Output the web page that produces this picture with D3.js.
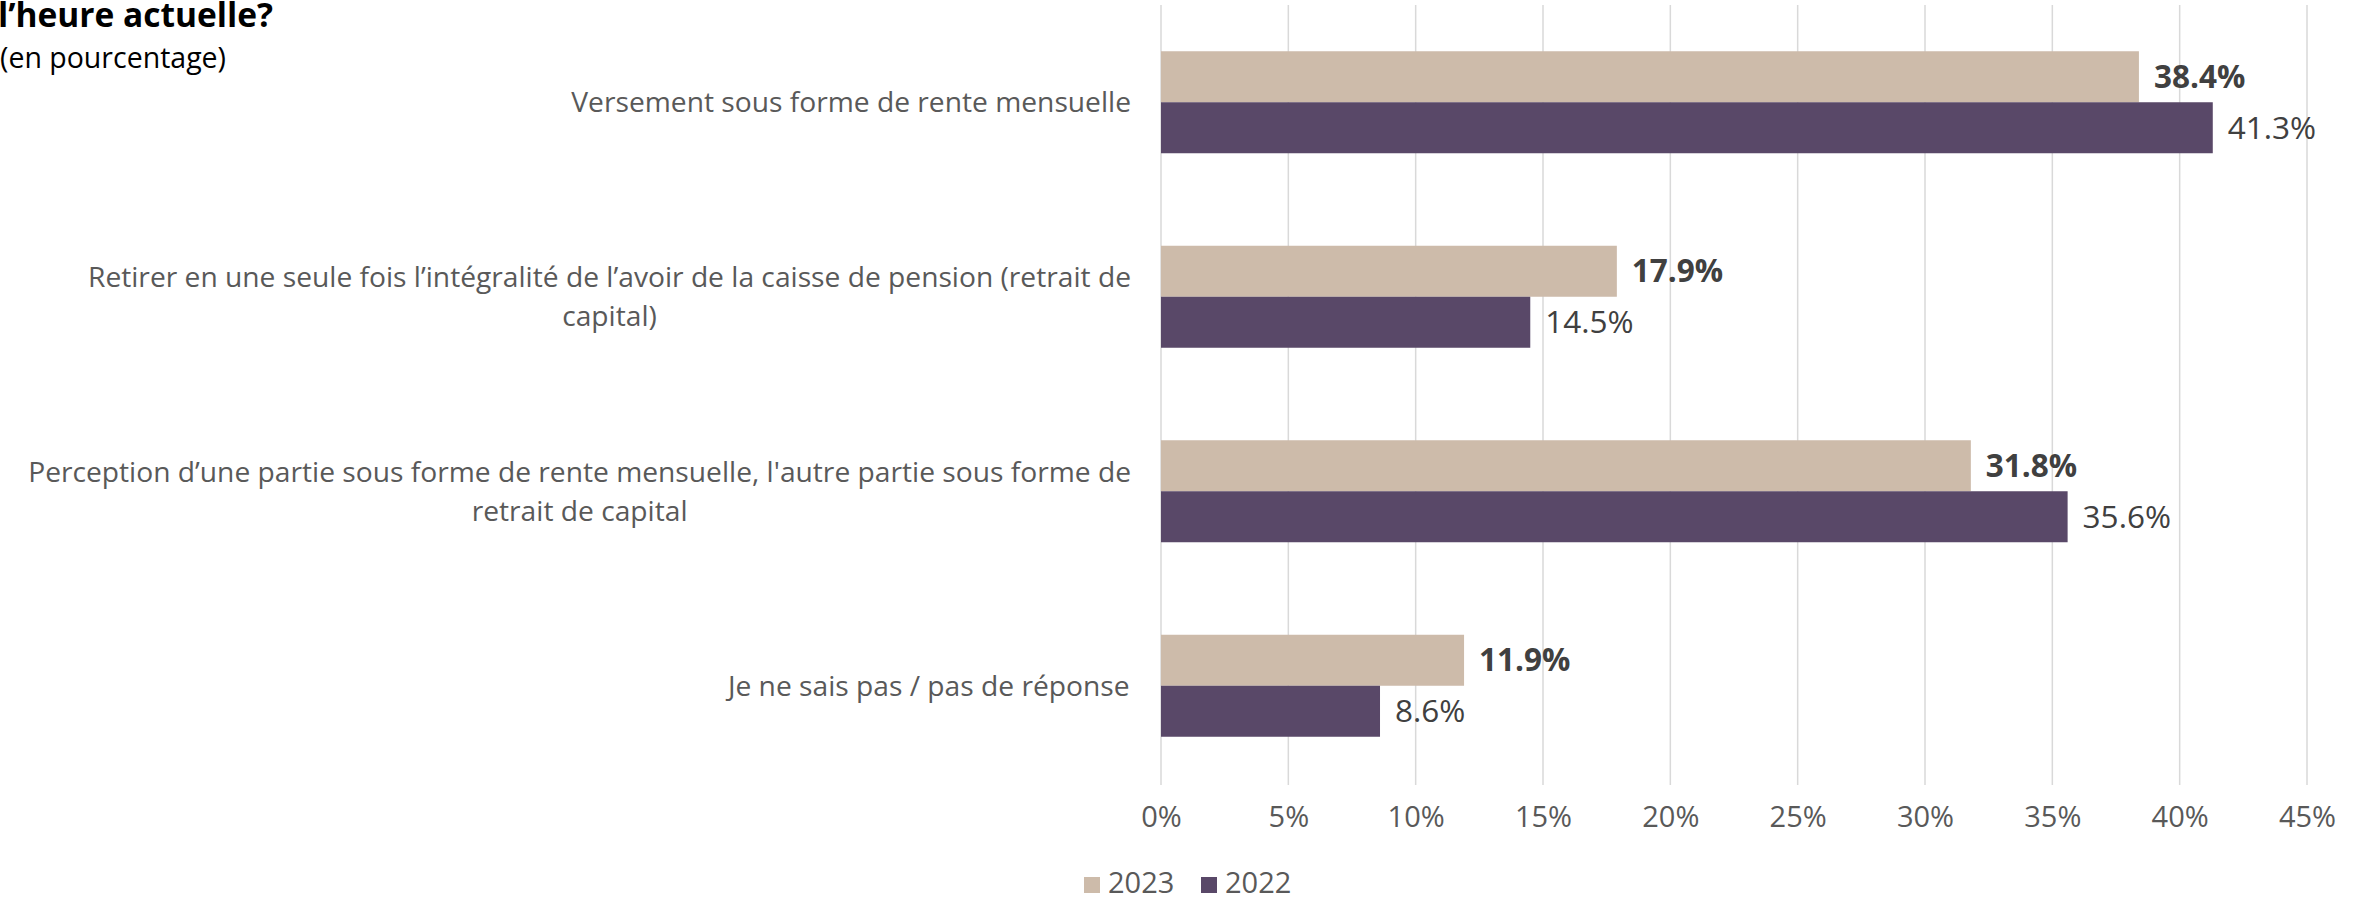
<!DOCTYPE html>
<html lang="fr">
<head>
    <meta charset="UTF-8">
    <title>Rente ou capital</title>
    <script src="https://d3js.org/d3.v7.min.js"></script>
    <style>
        body {
            margin: 0;
            overflow: hidden;
            background: #fff;
        }
        text {
            font-family: "Open Sans", sans-serif;
        }
        .grid line {
            stroke: #d9d9d9;
            stroke-width: 1.5px;
        }
    </style>
</head>
<body>
<script>
    // categories (explicit line breaks as in the original)
    var categories = [
        ["Versement sous forme de rente mensuelle"],
        ["Retirer en une seule fois l’intégralité de l’avoir de la caisse de pension (retrait de", "capital)"],
        ["Perception d’une partie sous forme de rente mensuelle, l'autre partie sous forme de", "retrait de capital"],
        ["Je ne sais pas / pas de réponse"]
    ];
    var series = ["2023", "2022"];
    var values2023 = [38.4, 17.9, 31.8, 11.9];
    var values2022 = [41.3, 14.5, 35.6, 8.6];
    var xTicks = [0, 5, 10, 15, 20, 25, 30, 35, 40, 45];

    var colors = { "2023": "#cdbbaa", "2022": "#594868" };
    var width = 2361, height = 900;

    var svg = d3.select("body").append("svg")
        .attr("width", width)
        .attr("height", height);

    var x = d3.scaleLinear().domain([0, 45]).range([1161, 2307]);

    var y0 = d3.scaleBand()
        .domain(d3.range(categories.length))
        .range([5, 783])
        .padding(0);

    var barH = 51;
    var y1 = d3.scaleBand()
        .domain(series)
        .range([y0.bandwidth() / 2 - barH, y0.bandwidth() / 2 + barH]);

    // gridlines
    svg.append("g")
        .attr("class", "grid")
        .selectAll("line")
        .data(xTicks)
        .enter().append("line")
        .attr("x1", d => x(d))
        .attr("x2", d => x(d))
        .attr("y1", 5)
        .attr("y2", 785);

    // x axis labels
    var xAxis = d3.axisBottom(x)
        .tickValues(xTicks)
        .tickFormat(d => d + "%")
        .tickSize(0)
        .tickPadding(0);

    var ax = svg.append("g")
        .attr("transform", "translate(0,806)")
        .call(xAxis);
    ax.select(".domain").remove();
    ax.selectAll("text")
        .attr("fill", "#595959")
        .attr("dy", "0.71em")
        .style("font-size", "29px")
        .style("font-family", "'Open Sans', sans-serif");

    var data = categories.map((c, i) => ({
        idx: i,
        lines: c,
        vals: [{ s: "2023", v: values2023[i] }, { s: "2022", v: values2022[i] }]
    }));

    var groups = svg.append("g")
        .selectAll("g")
        .data(data)
        .enter().append("g")
        .attr("transform", d => "translate(0," + y0(d.idx) + ")");

    groups.selectAll("rect")
        .data(d => d.vals)
        .enter().append("rect")
        .attr("x", x(0))
        .attr("y", d => y1(d.s))
        .attr("width", d => x(d.v) - x(0))
        .attr("height", y1.bandwidth())
        .attr("fill", d => colors[d.s]);

    groups.selectAll("text.val")
        .data(d => d.vals)
        .enter().append("text")
        .attr("class", "val")
        .attr("x", d => x(d.v) + 15)
        .attr("y", d => y1(d.s) + y1.bandwidth() / 2)
        .attr("dy", "0.35em")
        .attr("fill", "#404040")
        .style("font-size", "31.5px")
        .style("font-weight", d => d.s === "2023" ? "bold" : "normal")
        .text(d => d.v.toFixed(1) + "%");

    // category labels: block right-aligned, lines centred inside the block
    var lineH = 39;
    groups.each(function(d) {
        var g = d3.select(this);
        var t = g.append("text")
            .attr("fill", "#595959")
            .style("font-size", "28.2px");
        var n = d.lines.length;
        d.lines.forEach((ln, k) => {
            t.append("tspan")
                .attr("x", 0)
                .attr("y", y0.bandwidth() / 2 + (k - (n - 1) / 2) * lineH)
                .attr("dy", "0.35em")
                .text(ln);
        });
        var w = t.node().getBBox().width;
        var right = 1131;
        t.attr("text-anchor", "middle")
            .selectAll("tspan").attr("x", right - w / 2);
    });

    // title (only its last line is visible) and subtitle
    svg.append("text")
        .attr("x", -2)
        .attr("y", 27)
        .attr("fill", "#000")
        .style("font-size", "33.5px")
        .style("font-weight", "bold")
        .text("l’heure actuelle?");

    svg.append("text")
        .attr("x", 0)
        .attr("y", 68)
        .attr("fill", "#000")
        .style("font-size", "28.5px")
        .text("(en pourcentage)");

    // legend
    var legend = svg.append("g")
        .attr("transform", "translate(1084,877)");
    var li = legend.selectAll("g")
        .data(series)
        .enter().append("g")
        .attr("transform", (d, i) => "translate(" + i * 117 + ",0)");
    li.append("rect")
        .attr("width", 16)
        .attr("height", 16)
        .attr("fill", d => colors[d]);
    li.append("text")
        .attr("x", 24)
        .attr("y", 16)
        .attr("fill", "#595959")
        .style("font-size", "29px")
        .text(d => d);
</script>
</body>
</html>
